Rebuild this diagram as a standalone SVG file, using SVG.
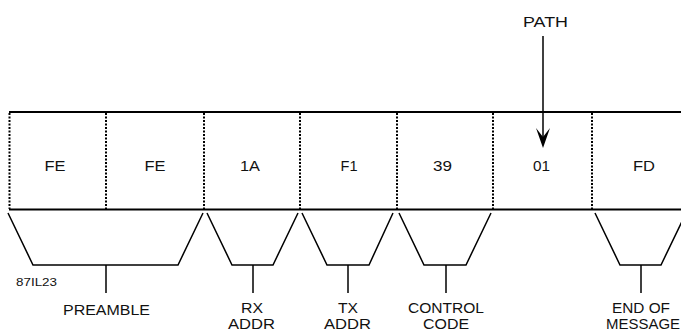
<svg xmlns="http://www.w3.org/2000/svg" width="681" height="335" viewBox="0 0 681 335">
<style>
.t{font-family:"Liberation Sans",Arial,sans-serif;font-size:15px;fill:#111;text-anchor:middle;lengthAdjust:spacingAndGlyphs}
.s{font-family:"Liberation Sans",Arial,sans-serif;font-size:11px;fill:#111}
.solid{stroke:#000;stroke-width:2;fill:none}
.dot{stroke:#000;stroke-width:2;stroke-dasharray:2,1.5;fill:none}
.br{stroke:#000;stroke-width:1.5;fill:none}
</style>
<rect width="681" height="335" fill="#fff"/>
<g id="frame">
<line class="solid" x1="9" y1="112" x2="681" y2="112"/>
<line class="solid" x1="9" y1="209.5" x2="681" y2="209.5"/>
<line class="dot" x1="9.5" y1="113" x2="9.5" y2="209"/>
<line class="dot" x1="106" y1="113" x2="106" y2="209"/>
<line class="dot" x1="204" y1="113" x2="204" y2="209"/>
<line class="dot" x1="300" y1="113" x2="300" y2="209"/>
<line class="dot" x1="397" y1="113" x2="397" y2="209"/>
<line class="dot" x1="493" y1="113" x2="493" y2="209"/>
<line class="dot" x1="592" y1="113" x2="592" y2="209"/>
</g>
<g id="cells">
<g id="cell1"><text class="t" x="55" y="171" textLength="21" lengthAdjust="spacingAndGlyphs">FE</text></g>
<g id="cell2"><text class="t" x="155" y="171" textLength="21" lengthAdjust="spacingAndGlyphs">FE</text></g>
<g id="cell3"><text class="t" x="250" y="171" textLength="20" lengthAdjust="spacingAndGlyphs">1A</text></g>
<g id="cell4"><text class="t" x="349" y="171" textLength="17" lengthAdjust="spacingAndGlyphs">F1</text></g>
<g id="cell5"><text class="t" x="442.5" y="171" textLength="19" lengthAdjust="spacingAndGlyphs">39</text></g>
<g id="cell6"><text class="t" x="541.5" y="171" textLength="17" lengthAdjust="spacingAndGlyphs">01</text></g>
<g id="cell7"><text class="t" x="644" y="171" textLength="22" lengthAdjust="spacingAndGlyphs">FD</text></g>
</g>
<g id="path-label">
<text class="t" x="545.5" y="27" textLength="45" lengthAdjust="spacingAndGlyphs">PATH</text>
</g>
<g id="connectors">
<line x1="543" y1="36" x2="543" y2="138" stroke="#000" stroke-width="1.5"/>
<path d="M543,148 L536,128 L543,137 L550,128 Z" fill="#000"/>
</g>
<g id="brackets">
<g id="preamble">
<polyline class="br" points="8,213 33,265 178,265 203,213"/>
<line class="br" x1="106" y1="265" x2="106" y2="293"/>
<text class="t" x="106.5" y="315" textLength="87" lengthAdjust="spacingAndGlyphs">PREAMBLE</text>
</g>
<g id="rxaddr">
<polyline class="br" points="207,213 232,265 273,265 298,213"/>
<line class="br" x1="253" y1="265" x2="253" y2="293"/>
<text class="t" x="252" y="313" textLength="22" lengthAdjust="spacingAndGlyphs">RX</text>
<text class="t" x="251.5" y="329" textLength="47" lengthAdjust="spacingAndGlyphs">ADDR</text>
</g>
<g id="txaddr">
<polyline class="br" points="302,213 327,265 369,265 393,213"/>
<line class="br" x1="348" y1="265" x2="348" y2="293"/>
<text class="t" x="348" y="313" textLength="20" lengthAdjust="spacingAndGlyphs">TX</text>
<text class="t" x="347.5" y="329" textLength="47" lengthAdjust="spacingAndGlyphs">ADDR</text>
</g>
<g id="control">
<polyline class="br" points="399,213 424,265 466,265 491,213"/>
<line class="br" x1="446" y1="265" x2="446" y2="293"/>
<text class="t" x="446" y="313" textLength="76" lengthAdjust="spacingAndGlyphs">CONTROL</text>
<text class="t" x="446" y="329" textLength="46" lengthAdjust="spacingAndGlyphs">CODE</text>
</g>
<g id="eom">
<polyline class="br" points="595,213 620,265 661,265 686,213"/>
<line class="br" x1="641" y1="265" x2="641" y2="293"/>
<text class="t" x="641" y="313" textLength="58" lengthAdjust="spacingAndGlyphs">END OF</text>
<text class="t" x="643" y="329" textLength="74" lengthAdjust="spacingAndGlyphs">MESSAGE</text>
</g>
</g>
<g id="figid">
<text class="s" x="16" y="286" textLength="41" lengthAdjust="spacingAndGlyphs">87IL23</text>
</g>
</svg>
